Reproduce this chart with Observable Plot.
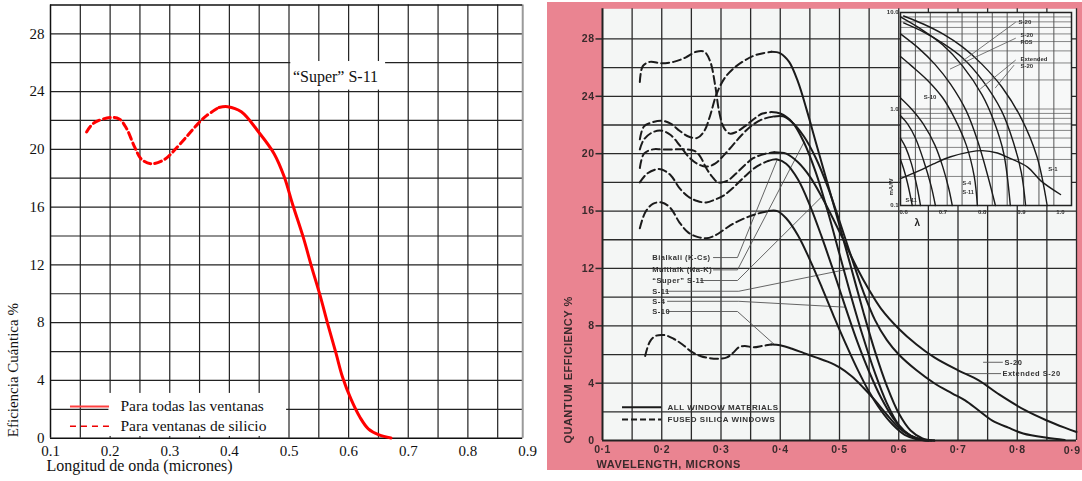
<!DOCTYPE html>
<html><head><meta charset="utf-8">
<script src="https://cdn.jsdelivr.net/npm/d3@7"></script>
<script src="https://cdn.jsdelivr.net/npm/@observablehq/plot@0.6"></script>
<style>
body{margin:0;background:#fff;}
#root{position:relative;width:1082px;height:481px;overflow:hidden;background:#fff}
#left{position:absolute;left:0;top:0;width:545px;height:481px}
#rwrap{position:absolute;left:547px;top:2px;width:535px;height:468px;background:#ea8491;overflow:hidden;filter:blur(0.45px)}
#right{position:absolute;left:-2px;top:-2px;width:537px;height:481px}
#inset{position:absolute;left:333px;top:-2px;width:200px;height:230px}
svg{max-width:none!important}
</style></head>
<body>
<div id="root">
  <div id="left"></div>
  <div id="rwrap"><div id="right"></div><div id="inset"></div></div>
</div>
<script>
// ---------------- LEFT PANEL DATA ----------------
const leftXTicks = [0.1,0.2,0.3,0.4,0.5,0.6,0.7,0.8,0.9];
const leftYTicks = [0,4,8,12,16,20,24,28];
const leftXGrid = [0.15,0.2,0.25,0.3,0.35,0.4,0.45,0.5,0.55,0.6,0.65,0.7,0.75,0.8,0.85];
const leftYGrid = [2,4,6,8,10,12,14,16,18,20,22,24,26,28];
const superS11Silica = [[0.1605,21.2],[0.172,21.8],[0.1997,22.2],[0.2153,22.1],[0.2268,21.5],[0.2412,20.15],[0.2528,19.3],[0.27,19.0],[0.2931,19.35],[0.3047,19.8],[0.3277,20.85],[0.3479,21.8],[0.3623,22.35],[0.3825,22.9]];
const superS11All = [[0.3825,22.9],[0.397,22.95],[0.42,22.6],[0.449,21.2],[0.475,19.7],[0.492,18.1],[0.506,16.2],[0.524,13.9],[0.538,11.85],[0.552,9.9],[0.565,7.9],[0.579,5.85],[0.59,4.2],[0.604,2.7],[0.619,1.45],[0.633,0.65],[0.651,0.23],[0.671,0.02]];
const leftLegend = ["Para todas las ventanas", "Para ventanas de silicio"];
const leftTitle = "“Super” S-11";
const leftXLabel = "Longitud de onda (micrones)";
const leftYLabel = "Eficiencia Cuántica %";

// ---------------- RIGHT PANEL DATA ----------------
const rightXTicks = [0.1,0.2,0.3,0.4,0.5,0.6,0.7,0.8];
const rightLastXTick = [0.9];
const rightYTicks = [0,4,8,12,16,20,24,28];
const rightXGrid = [0.15,0.2,0.25,0.3,0.35,0.4,0.45,0.5,0.55,0.6,0.65,0.7,0.75,0.8,0.85,0.9];
const rightYGrid = [2,4,6,8,10,12,14,16,18,20,22,24,26,28];
const r1Silica = [[0.163,25.0],[0.168,26.1],[0.18,26.4],[0.2,26.3],[0.22,26.4],[0.24,26.7],[0.258,27.1],[0.272,27.1],[0.282,26.4],[0.29,24.8],[0.297,22.9],[0.305,21.8],[0.315,21.4],[0.325,21.5],[0.34,21.9],[0.355,22.4],[0.37,22.8],[0.385,22.9]];
const r1All = [[0.385,22.9],[0.4,22.8],[0.42,22.2],[0.44,20.8],[0.46,18.7],[0.48,16.0],[0.5,13.0],[0.52,10.0],[0.54,7.2],[0.56,4.7],[0.58,2.6],[0.6,1.1],[0.62,0.35],[0.64,0.05],[0.655,0]];
const r2Silica = [[0.163,21.0],[0.17,21.9],[0.185,22.2],[0.2,22.3],[0.215,22.1],[0.23,21.6],[0.245,21.2],[0.26,21.1],[0.272,21.6],[0.282,22.7],[0.292,24.1],[0.305,25.2],[0.32,25.9],[0.34,26.5],[0.36,26.9],[0.385,27.1]];
const r2All = [[0.385,27.1],[0.4,27.0],[0.415,26.4],[0.43,25.0],[0.445,23.0],[0.46,20.8],[0.48,17.9],[0.5,15.0],[0.52,12.0],[0.54,9.0],[0.56,6.2],[0.58,3.8],[0.6,1.9],[0.62,0.7],[0.64,0.15],[0.66,0]];
const r3Silica = [[0.163,20.3],[0.17,21.0],[0.185,21.5],[0.2,21.6],[0.215,21.3],[0.23,20.6],[0.245,19.8],[0.26,19.3],[0.275,19.1],[0.29,19.3],[0.305,19.9],[0.32,20.6],[0.335,21.3],[0.35,21.9],[0.37,22.4],[0.39,22.6]];
const r3All = [[0.39,22.6],[0.405,22.6],[0.42,22.2],[0.44,21.2],[0.46,19.7],[0.48,17.7],[0.5,15.3],[0.52,12.8],[0.54,10.4],[0.56,8.4],[0.58,7.0],[0.6,6.0],[0.63,4.9],[0.66,4.0],[0.69,3.3],[0.712,2.8],[0.735,2.1],[0.758,1.4],[0.785,0.9],[0.81,0.5],[0.85,0.2],[0.88,0.05]];
const r4Silica = [[0.163,19.0],[0.17,20.0],[0.185,20.3],[0.2,20.3],[0.22,20.3],[0.24,20.3],[0.255,20.2],[0.265,19.8],[0.275,19.0],[0.285,18.4],[0.295,18.0],[0.31,18.1],[0.325,18.6],[0.34,19.2],[0.355,19.7],[0.375,20.0],[0.39,20.1]];
const r4All = [[0.39,20.1],[0.41,20.0],[0.43,19.4],[0.45,18.4],[0.47,17.0],[0.49,15.4],[0.51,13.7],[0.53,12.0],[0.55,10.5],[0.57,9.2],[0.6,7.8],[0.63,6.7],[0.66,5.8],[0.7,4.9],[0.735,4.2],[0.77,3.2],[0.814,2.1],[0.85,1.4],[0.88,0.9],[0.9,0.6]];
const r5Silica = [[0.163,18.0],[0.175,18.6],[0.19,18.9],[0.2,18.9],[0.215,18.5],[0.23,17.6],[0.245,17.0],[0.26,16.7],[0.275,16.6],[0.29,16.8],[0.305,17.1],[0.32,17.6],[0.34,18.4],[0.36,19.1],[0.38,19.5]];
const r5All = [[0.38,19.5],[0.395,19.6],[0.41,19.3],[0.43,18.2],[0.45,16.4],[0.47,14.2],[0.49,11.8],[0.51,9.3],[0.53,6.9],[0.55,4.8],[0.57,3.0],[0.59,1.6],[0.61,0.6],[0.63,0.15],[0.65,0]];
const r6Silica = [[0.163,14.8],[0.172,15.9],[0.185,16.5],[0.2,16.6],[0.215,16.2],[0.23,15.2],[0.245,14.5],[0.26,14.2],[0.275,14.1],[0.29,14.3],[0.305,14.7],[0.32,15.1],[0.34,15.5],[0.36,15.8],[0.38,16.0]];
const r6All = [[0.38,16.0],[0.395,16.0],[0.41,15.5],[0.43,14.3],[0.45,12.6],[0.47,10.7],[0.49,8.7],[0.51,6.8],[0.53,5.0],[0.55,3.4],[0.57,2.1],[0.59,1.1],[0.61,0.4],[0.63,0.1],[0.65,0]];
const r7Silica = [[0.172,5.9],[0.18,6.9],[0.19,7.3],[0.205,7.35],[0.22,7.1],[0.235,6.7],[0.25,6.2],[0.265,5.9],[0.28,5.75],[0.295,5.7],[0.31,5.8],[0.32,6.1],[0.33,6.5],[0.34,6.6],[0.355,6.5],[0.37,6.6],[0.385,6.7]];
const r7All = [[0.385,6.7],[0.4,6.65],[0.42,6.4],[0.44,6.1],[0.46,5.8],[0.48,5.5],[0.5,5.1],[0.52,4.5],[0.54,3.7],[0.56,2.8],[0.58,1.8],[0.6,0.9],[0.62,0.35],[0.64,0.08],[0.66,0]];
const rightSilica = [r1Silica, r2Silica, r3Silica, r4Silica, r5Silica, r6Silica, r7Silica];
const rightAll = [r1All, r2All, r3All, r4All, r5All, r6All, r7All];
const rightCurveLabels = ["Bialkali (K-Cs)", "Multialk (Na-K)", "“Super” S-11", "S-11", "S-4", "S-10"];
const rightTailLabels = ["S-20", "Extended S-20"];
const rightLegend = ["ALL WINDOW MATERIALS", "FUSED SILICA WINDOWS"];
const rightXLabel = "WAVELENGTH, MICRONS";
const rightYLabel = "QUANTUM EFFICIENCY %";

// ---------------- INSET DATA ----------------
const insetXTicks = [0.6,0.7,0.8,0.9,1.0];
const insetYTicks = [0.1,1,10];
const insetXGrid = [0.63,0.668,0.711,0.749,0.788,0.826,0.864,0.906,0.945,0.983];
const insetYGrid = [0.2,0.3,0.4,0.5,0.6,0.7,0.8,0.9,1,2,3,4,5,6,7,8,9];
const inD1 = [[0.6,9.2],[0.65,7.6],[0.7,6.0],[0.75,4.4],[0.8,2.9],[0.85,1.7],[0.9,0.8],[0.94,0.32],[0.966,0.1]];
const inD2 = [[0.6,7.8],[0.65,6.3],[0.7,4.8],[0.75,3.4],[0.8,2.0],[0.85,0.95],[0.88,0.45],[0.9,0.22],[0.911,0.1]];
const inD3 = [[0.592,9.0],[0.65,6.5],[0.7,4.6],[0.75,2.8],[0.8,1.4],[0.83,0.75],[0.855,0.35],[0.872,0.1]];
const inD9 = [[0.592,6.0],[0.64,4.2],[0.68,2.9],[0.72,1.8],[0.76,0.95],[0.79,0.45],[0.815,0.2],[0.834,0.1]];
const inD4 = [[0.592,3.5],[0.62,2.8],[0.66,2.0],[0.7,1.3],[0.73,0.8],[0.76,0.42],[0.78,0.2],[0.788,0.1]];
const inD5 = [[0.592,1.3],[0.62,1.0],[0.65,0.7],[0.68,0.42],[0.7,0.25],[0.715,0.15],[0.724,0.1]];
const inD6 = [[0.592,0.85],[0.61,0.7],[0.63,0.5],[0.65,0.3],[0.67,0.16],[0.681,0.1]];
const inD7 = [[0.592,0.5],[0.605,0.4],[0.62,0.27],[0.635,0.15],[0.643,0.1]];
const inD8 = [[0.592,0.3],[0.6,0.24],[0.61,0.17],[0.622,0.1]];
const inS1 = [[0.592,0.19],[0.64,0.23],[0.676,0.27],[0.72,0.32],[0.77,0.36],[0.8,0.37],[0.839,0.35],[0.87,0.31],[0.916,0.25],[0.95,0.18],[1.0,0.13]];
const insetCurves = [inD1, inD2, inD3, inD9, inD4, inD5, inD6, inD7, inD8, inS1];

// ---------------- LEFT PANEL ----------------
const L = Plot.plot({
  width: 545, height: 481,
  marginLeft: 50, marginRight: 18, marginTop: 4.4, marginBottom: 43.3,
  x: {domain: [0.1, 0.9], ticks: leftXTicks, tickFormat: d => d.toFixed(1), tickSize: 0, tickPadding: 7, label: null},
  y: {domain: [0, 30], ticks: leftYTicks, tickFormat: d => String(d), tickSize: 0, tickPadding: 6, label: null},
  style: {background: "transparent", fontFamily: "'Liberation Serif', 'DejaVu Serif', serif", fontSize: "15px", color: "#111", overflow: "visible"},
  marks: [
    Plot.ruleX(leftXGrid, {y1: 0, y2: 30, stroke: "#222", strokeWidth: 1.2}),
    Plot.ruleY(leftYGrid, {x1: 0.1, x2: 0.892, stroke: "#222", strokeWidth: 1.2}),
    Plot.ruleX([0.892], {y1: 0, y2: 30, stroke: "#9a9a9a", strokeWidth: 2}),
    Plot.ruleX([0.1], {y1: 0, y2: 30, stroke: "#111", strokeWidth: 1.5}),
    Plot.ruleY([0, 30], {x1: 0.1, x2: 0.892, stroke: "#111", strokeWidth: 1.5}),
    Plot.rect([{a: 0.198, b: 0.496, c: 0.12, d: 3.1}], {x1: "a", x2: "b", y1: "c", y2: "d", fill: "white"}),
    Plot.rect([{a: 0.503, b: 0.662, c: 24.1, d: 26.08}], {x1: "a", x2: "b", y1: "c", y2: "d", fill: "white"}),
    Plot.text([leftTitle], {x: 0.578, y: 25.05, text: d => d, fontSize: 16, fill: "#111"}),
    Plot.line(superS11Silica, {stroke: "#ff0000", strokeWidth: 3, strokeDasharray: "7,4", curve: "catmull-rom"}),
    Plot.line(superS11All, {stroke: "#ff0000", strokeWidth: 3, curve: "catmull-rom"}),
    Plot.ruleY([2.2], {x1: 0.1335, x2: 0.199, stroke: "#ff4040", strokeWidth: 2}),
    Plot.ruleY([0.83], {x1: 0.1335, x2: 0.199, stroke: "#ee0000", strokeWidth: 1.5, strokeDasharray: "6,5"}),
    Plot.text([leftLegend[0]], {x: 0.2174, y: 2.2, text: d => d, textAnchor: "start", fontSize: 15.5, fill: "#111"}),
    Plot.text([leftLegend[1]], {x: 0.2174, y: 0.83, text: d => d, textAnchor: "start", fontSize: 15.5, fill: "#111"}),
    Plot.text([leftXLabel], {frameAnchor: "bottom-left", text: d => d, textAnchor: "start", dx: -4, dy: 33, fontSize: 16, fill: "#111"}),
    Plot.text([leftYLabel], {frameAnchor: "bottom-left", text: d => d, textAnchor: "start", rotate: -90, dx: -33, dy: -1, fontSize: 15, fill: "#111"})
  ]
});
document.getElementById("left").appendChild(L);

// ---------------- RIGHT PANEL ----------------
const ink = "#1b1b1b";
const curveMarks = [];
rightSilica.forEach(c => curveMarks.push(Plot.line(c, {stroke: ink, strokeWidth: 2, strokeDasharray: "8,4", curve: "catmull-rom"})));
rightAll.forEach(c => curveMarks.push(Plot.line(c, {stroke: ink, strokeWidth: 2, curve: "catmull-rom"})));
const labelYs = [12.76, 11.9, 11.16, 10.41, 9.71, 9.0];
const leaders = [
  [[0.2873,12.76],[0.3278,12.76],[0.395,19.6]],
  [[0.2873,11.9],[0.3278,11.9],[0.44,20.8]],
  [[0.2654,11.16],[0.3278,11.16],[0.47,17.0]],
  [[0.2063,10.41],[0.33,10.41],[0.52,12.0]],
  [[0.2097,9.71],[0.33,9.71],[0.51,9.3]],
  [[0.2097,9.0],[0.3278,9.0],[0.39,6.7]],
  [[0.743,5.46],[0.775,5.46]],
  [[0.714,4.67],[0.772,4.67]]
];
const fmtR = d => d.toFixed(1).replace(".", "·");
const R = Plot.plot({
  width: 537, height: 481,
  marginLeft: 57, marginRight: 6, marginTop: 8.3, marginBottom: 40.9,
  x: {domain: [0.1, 0.9], ticks: rightXTicks, tickFormat: fmtR, tickSize: 0, tickPadding: 5, label: null},
  y: {domain: [0, 30.1], ticks: rightYTicks, tickFormat: d => String(d), tickSize: 0, tickPadding: 8, label: null},
  style: {background: "transparent", fontFamily: "'Liberation Sans', Arial, sans-serif", fontSize: "10.5px", fontWeight: "bold", color: "#3a2a2c", letterSpacing: "0.5px", overflow: "visible"},
  marks: [
    Plot.frame({fill: "#f4f6f5", stroke: null}),
    Plot.ruleX(rightXGrid, {y1: 0, y2: 30.1, stroke: "#2a2a2a", strokeWidth: 1.3}),
    Plot.ruleY(rightYGrid, {x1: 0.1, x2: 0.9, stroke: "#2a2a2a", strokeWidth: 1.3}),
    Plot.ruleY(rightYTicks.filter(d => d > 0), {x1: 0.089, x2: 0.1, stroke: "#2a2a2a", strokeWidth: 1.5}),
    Plot.ruleX([0.1], {y1: 0, y2: 30.1, stroke: "#222", strokeWidth: 2}),
    Plot.ruleY([0], {x1: 0.1, x2: 0.9, stroke: "#222", strokeWidth: 2}),
    ...leaders.map(l => Plot.line(l, {stroke: "#555", strokeWidth: 0.9})),
    ...curveMarks,
    Plot.text(rightLastXTick, {x: d => d, y: 0, text: fmtR, textAnchor: "end", dx: 4, dy: 10, fontSize: 10.5, fill: "#3a2a2c"}),
    Plot.text(rightCurveLabels, {x: 0.1839, y: (d, i) => labelYs[i], text: d => d, textAnchor: "start", fontSize: 7.5, fill: "#333"}),
    Plot.text([rightTailLabels[0]], {x: 0.7785, y: 5.46, text: d => d, textAnchor: "start", fontSize: 7.5, fill: "#333"}),
    Plot.text([rightTailLabels[1]], {x: 0.775, y: 4.67, text: d => d, textAnchor: "start", fontSize: 7.5, fill: "#333"}),
    Plot.ruleY([2.33], {x1: 0.1338, x2: 0.2, stroke: ink, strokeWidth: 2}),
    Plot.ruleY([1.47], {x1: 0.1338, x2: 0.2, stroke: ink, strokeWidth: 2, strokeDasharray: "6,3"}),
    Plot.text([rightLegend[0]], {x: 0.2097, y: 2.33, text: d => d, textAnchor: "start", fontSize: 8, fill: "#333"}),
    Plot.text([rightLegend[1]], {x: 0.2097, y: 1.47, text: d => d, textAnchor: "start", fontSize: 8, fill: "#333"}),
    Plot.text([rightXLabel], {frameAnchor: "bottom-left", text: d => d, textAnchor: "start", dx: -6, dy: 27, fontSize: 11, fill: "#3a2a2c"}),
    Plot.text([rightYLabel], {frameAnchor: "bottom-left", text: d => d, textAnchor: "start", rotate: -90, dx: -31, dy: 3, fontSize: 11, fill: "#3a2a2c"})
  ]
});
document.getElementById("right").appendChild(R);

// ---------------- INSET ----------------
const I = Plot.plot({
  width: 200, height: 230,
  marginLeft: 20, marginRight: 9, marginTop: 12, marginBottom: 25,
  x: {domain: [0.592, 1.028], ticks: insetXTicks, tickFormat: d => d.toFixed(1), tickSize: 0, tickPadding: 4, label: null},
  y: {type: "log", domain: [0.1, 10], ticks: insetYTicks, tickFormat: d => d.toFixed(1), tickSize: 0, tickPadding: 2, label: null},
  style: {background: "transparent", fontFamily: "'Liberation Sans', Arial, sans-serif", fontSize: "6px", fontWeight: "bold", color: "#333", overflow: "visible"},
  marks: [
    Plot.frame({fill: "#f7f8f8", stroke: null}),
    Plot.ruleX(insetXGrid, {stroke: "#444", strokeWidth: 0.9}),
    Plot.ruleY(insetYGrid, {stroke: "#555", strokeWidth: 0.7}),
    Plot.frame({stroke: "#222", strokeWidth: 1.5}),
    ...insetCurves.map(c => Plot.line(c, {stroke: ink, strokeWidth: 1.4, curve: "catmull-rom"})),
    Plot.line([[0.885,7.9],[0.753,3.2]], {stroke: "#555", strokeWidth: 0.8}),
    Plot.line([[0.885,5.4],[0.719,2.6]], {stroke: "#555", strokeWidth: 0.8}),
    Plot.line([[0.885,3.2],[0.796,1.62]], {stroke: "#555", strokeWidth: 0.8}),
    Plot.line([[0.881,2.83],[0.834,1.66]], {stroke: "#555", strokeWidth: 0.8}),
    Plot.text(["S-20"], {x: 0.893, y: 7.9, text: d => d, textAnchor: "start", fontSize: 6}),
    Plot.text(["S-20"], {x: 0.898, y: 5.8, text: d => d, textAnchor: "start", fontSize: 6}),
    Plot.text(["ROS"], {x: 0.898, y: 4.9, text: d => d, textAnchor: "start", fontSize: 5.5}),
    Plot.text(["Extended"], {x: 0.898, y: 3.3, text: d => d, textAnchor: "start", fontSize: 6}),
    Plot.text(["S-20"], {x: 0.898, y: 2.8, text: d => d, textAnchor: "start", fontSize: 6}),
    Plot.text(["S-10"], {x: 0.651, y: 1.32, text: d => d, textAnchor: "start", fontSize: 6}),
    Plot.text(["S-1"], {x: 0.969, y: 0.24, text: d => d, textAnchor: "start", fontSize: 6}),
    Plot.text(["S-4"], {x: 0.75, y: 0.169, text: d => d, textAnchor: "start", fontSize: 5.5}),
    Plot.text(["S-11"], {x: 0.75, y: 0.136, text: d => d, textAnchor: "start", fontSize: 5.5}),
    Plot.text(["S-11"], {x: 0.605, y: 0.113, text: d => d, textAnchor: "start", fontSize: 5.5}),
    Plot.text(["λ"], {x: 0.635, frameAnchor: "bottom", text: d => d, dy: 20, fontSize: 10, fill: "#222"}),
    Plot.text(["mA/W"], {frameAnchor: "bottom-left", text: d => d, textAnchor: "start", rotate: -90, dx: -8, dy: -10, fontSize: 6})
  ]
});
document.getElementById("inset").appendChild(I);
</script>
</body></html>
